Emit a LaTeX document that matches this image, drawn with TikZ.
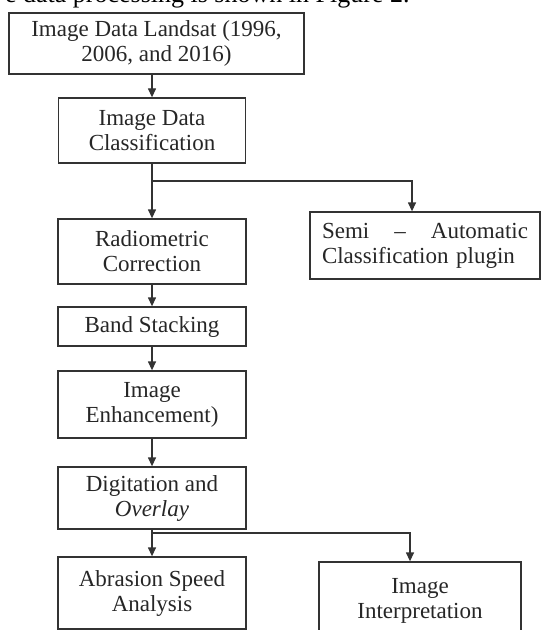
\documentclass[tikz,border=0pt]{standalone}
\usepackage{fontspec}
\setmainfont{Liberation Serif}
\usetikzlibrary{arrows.meta}
\tikzset{
	stage/.style={draw=black!80, line width=1.3bp, align=center, inner sep=0pt, text=black!85},
	flow/.style={draw=black!80, line width=1.3bp, -{Triangle[length=9bp,width=8bp]}},
}

\begin{document}
\begin{tikzpicture}[x=1bp,y=-1bp,font=\fontsize{23bp}{25bp}\selectfont]
\useasboundingbox (0,0) rectangle (541,630);
\clip (0,0) rectangle (541,630);

\node[anchor=base east, font=\fontsize{26bp}{30bp}\selectfont] (caption) at (413,3)
	{e data processing is shown in Figure 2.};

\node[stage, minimum width=295bp, minimum height=61bp] (landsat) at (156.5,43.5)
	{Image Data Landsat (1996,\\2006, and 2016)};
\node[stage, minimum width=187bp, minimum height=65bp] (classif) at (152,130.5)
	{Image Data\\Classification};
\node[stage, minimum width=188bp, minimum height=65bp] (radio) at (152,251.5)
	{Radiometric\\Correction};
\node[stage, minimum width=230bp, minimum height=67bp, text width=206bp, align=left] (semi) at (425,245.5)
	{Semi \hfill -- \hfill Automatic\\Classification plugin};
\node[stage, minimum width=188bp, minimum height=39bp] (stack) at (152,326.5)
	{Band Stacking};
\node[stage, minimum width=188bp, minimum height=67bp] (enhance) at (152,404.5)
	{Image\\Enhancement)};
\node[stage, minimum width=188bp, minimum height=62bp] (digit) at (152,498)
	{Digitation and\\\textit{Overlay}};
\node[stage, minimum width=188bp, minimum height=72bp] (abrasion) at (152,593)
	{Abrasion Speed\\Analysis};
\node[stage, minimum width=202bp, minimum height=78bp] (interp) at (420,601)
	{Image\\Interpretation};

\coordinate (split1) at (classif.south |- 0,181);
\coordinate (split2) at (digit.south |- 0,533);

\draw[flow] (classif.north |- landsat.south) -- (classif.north);
\draw[flow] (classif.south) -- (radio.north);
\draw[flow] (split1) -| ([xshift=-13bp]semi.north);
\draw[flow] (radio) -- (stack);
\draw[flow] (stack) -- (enhance);
\draw[flow] (enhance) -- (digit);
\draw[flow] (digit) -- (abrasion);
\draw[flow] (split2) -| ([xshift=-10bp]interp.north);
\end{tikzpicture}
\end{document}
